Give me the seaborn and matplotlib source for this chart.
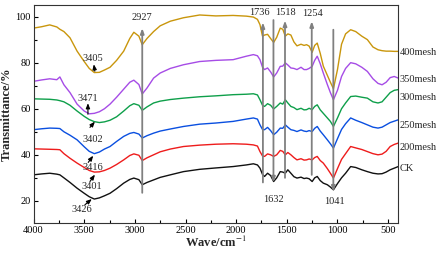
import matplotlib
matplotlib.use("Agg")
import matplotlib.pyplot as plt
import seaborn as sns
import pandas as pd
from matplotlib.ticker import MultipleLocator

# ---- data ----
wavenumber = [4000, 3920, 3840, 3770, 3740, 3700, 3640, 3570, 3500, 3450, 3400, 3350, 3300, 3245,
              3180, 3110, 3050, 3010, 2960, 2927, 2880, 2815, 2750, 2650, 2520, 2360, 2200, 2030,
              1900, 1830, 1790, 1765, 1740, 1720, 1690, 1660, 1630, 1600, 1565, 1540, 1515, 1490,
              1460, 1430, 1400, 1360, 1330, 1305, 1280, 1250, 1225, 1200, 1170, 1140, 1100, 1070,
              1040, 1000, 960, 920, 870, 820, 760, 705, 650, 600, 560, 520, 480, 440, 400]

mesh400 = [95.0, 95.6, 96.4, 95.5, 94.5, 93.5, 90.8, 85.0, 80.5, 77.5, 75.7, 75.8, 76.8, 78.0,
           81.0, 85.0, 90.5, 93.2, 91.5, 87.8, 90.5, 93.5, 96.0, 98.0, 99.5, 100.7, 100.3, 100.5,
           100.2, 99.8, 98.8, 96.5, 91.5, 92.0, 92.3, 90.5, 88.8, 91.0, 95.0, 94.5, 91.5, 92.5,
           92.0, 89.0, 87.3, 88.0, 87.5, 87.8, 87.2, 84.5, 87.5, 88.5, 84.0, 78.5, 74.5, 71.5,
           68.7, 77.0, 88.0, 92.5, 94.3, 93.5, 91.5, 90.0, 86.8, 85.6, 85.2, 85.0, 85.0, 84.9, 84.9]

mesh350 = [71.9, 72.5, 73.0, 72.6, 73.8, 70.4, 67.0, 62.0, 59.0, 57.8, 58.0, 58.7, 60.0, 62.0,
           65.0, 68.5, 71.5, 72.4, 70.5, 66.4, 69.0, 73.3, 75.5, 77.5, 79.1, 80.5, 81.0, 81.3,
           82.8, 83.5, 83.0, 81.3, 78.0, 77.0, 77.7, 76.0, 73.8, 75.5, 78.4, 78.5, 79.9, 79.0,
           77.7, 77.5, 77.0, 78.0, 77.0, 77.0, 77.5, 78.4, 81.0, 82.8, 79.5, 75.5, 70.5, 67.0,
           63.9, 68.0, 74.0, 77.5, 80.0, 79.5, 78.0, 76.2, 73.0, 71.0, 70.4, 71.5, 73.5, 74.0, 73.3]

mesh300 = [64.3, 64.2, 64.1, 63.8, 63.5, 63.0, 61.5, 59.0, 56.7, 55.3, 54.4, 54.0, 54.3, 55.0,
           56.5, 59.0, 61.3, 62.2, 61.5, 59.3, 60.8, 62.5, 63.3, 64.0, 64.6, 65.2, 65.6, 66.1,
           66.3, 66.5, 66.0, 63.9, 61.5, 61.0, 62.2, 61.5, 59.9, 61.0, 62.5, 62.0, 63.9, 62.5,
           61.0, 60.5, 59.6, 60.2, 59.5, 59.6, 60.2, 59.6, 61.0, 61.7, 59.5, 58.0, 56.0, 54.5,
           52.3, 56.0, 60.0, 62.5, 65.3, 65.5, 65.0, 64.6, 63.0, 62.5, 63.0, 65.0, 67.0, 68.0, 68.3]

mesh250 = [50.9, 51.3, 51.6, 51.5, 51.4, 50.0, 48.5, 46.5, 43.5, 41.5, 40.5, 41.2, 42.5, 43.6,
           45.8, 48.0, 49.3, 49.7, 49.0, 47.3, 48.3, 49.4, 50.3, 51.2, 52.3, 53.3, 53.8, 54.5,
           55.5, 56.0, 55.5, 53.0, 51.0, 50.9, 51.9, 50.5, 48.7, 49.8, 51.6, 51.5, 53.0, 52.0,
           50.9, 50.6, 50.1, 50.8, 50.3, 50.1, 50.5, 50.1, 51.5, 52.3, 50.3, 48.7, 46.5, 44.8,
           42.9, 47.0, 51.0, 53.5, 56.0, 55.0, 54.0, 53.0, 52.0, 51.6, 52.0, 53.0, 54.0, 54.6, 55.2]

mesh200 = [42.6, 42.5, 42.4, 42.3, 42.2, 40.5, 38.5, 36.4, 34.5, 33.2, 32.5, 32.6, 33.2, 34.2,
           35.8, 37.8, 39.7, 40.4, 39.8, 37.5, 38.7, 40.0, 41.3, 42.5, 43.6, 44.2, 44.6, 44.8,
           44.6, 44.3, 43.8, 41.4, 39.5, 39.3, 40.4, 40.0, 39.3, 40.0, 41.9, 41.5, 40.0, 41.0,
           40.0, 38.8, 37.8, 38.3, 37.7, 37.8, 38.2, 37.8, 38.8, 39.3, 37.5, 36.4, 34.0, 32.0,
           29.9, 34.0, 38.0, 40.5, 43.6, 43.0, 42.3, 41.4, 40.5, 40.0, 40.3, 41.5, 43.6, 44.5, 45.1]

ck = [31.3, 31.7, 32.0, 31.6, 31.3, 30.0, 28.0, 25.5, 23.3, 21.8, 20.8, 21.3, 22.2, 23.3,
      25.3, 27.7, 29.3, 29.9, 29.2, 27.0, 28.0, 29.1, 30.2, 31.3, 32.7, 33.7, 34.3, 34.9,
      35.6, 36.1, 35.6, 34.2, 31.5, 30.6, 32.0, 31.0, 28.4, 30.0, 32.7, 32.5, 32.0, 33.5,
      32.0, 30.5, 29.9, 30.3, 29.7, 29.9, 29.6, 28.4, 30.0, 30.6, 28.8, 27.7, 27.0, 26.0,
      24.8, 27.5, 30.0, 32.0, 34.9, 34.5, 33.5, 32.7, 32.0, 31.7, 31.8, 32.5, 33.5, 34.2, 34.9]

series_names = ["400mesh", "350mesh", "300mesh", "250mesh", "200mesh", "CK"]
series_values = [mesh400, mesh350, mesh300, mesh250, mesh200, ck]
series_label_y = [84.5, 72.6, 64.8, 52.6, 43.0, 34.0]
colors = ["#C9960C", "#A64CE6", "#0E9F4A", "#0A4FE0", "#EE1C1C", "#111111"]

peak_lines = [2927, 1736, 1632, 1518, 1254, 1041]
peak_labels = ["2927", "1736", "1632", "1518", "1254", "1041"]

oh_labels = ["3405", "3471", "3402", "3416", "3401", "3426"]

# ---- build ----
sns.set_theme(style="ticks")
plt.rcParams["font.family"] = ["Liberation Serif", "DejaVu Serif"]
plt.rcParams["mathtext.fontset"] = "stix"

rows = []
for name, vals in zip(series_names, series_values):
    for w, v in zip(wavenumber, vals):
        rows.append({"wave": w, "T": v, "sample": name})
df = pd.DataFrame(rows)

fig = plt.figure(figsize=(4.47, 2.54), dpi=100)
ax = fig.add_axes([0.075, 0.123, 0.816, 0.857])

sns.lineplot(data=df, x="wave", y="T", hue="sample", hue_order=series_names,
             palette=colors, legend=False, linewidth=1.0, ax=ax, estimator=None)

ax.set_xlim(4000, 400)
ax.set_ylim(10.5, 105)
ax.xaxis.set_major_locator(MultipleLocator(500))
ax.xaxis.set_minor_locator(MultipleLocator(250))
ax.yaxis.set_major_locator(MultipleLocator(20))
ax.yaxis.set_minor_locator(MultipleLocator(10))
ax.set_xticks([4000, 3500, 3000, 2500, 2000, 1500, 1000, 500])
ax.tick_params(axis="both", which="both", direction="in", labelsize=7.5, width=0.8,
               colors="black", pad=2)
ax.tick_params(which="major", length=3)
ax.tick_params(which="minor", length=2)
for s in ax.spines.values():
    s.set_linewidth(0.8)
    s.set_color("#333333")

ax.set_xlabel("Wave/cm$^{-1}$", fontsize=9, fontweight="bold", labelpad=0)
ax.set_ylabel("Transmittance/%", fontsize=9, fontweight="bold", labelpad=2)

# vertical marker lines
gray = "#808080"
line_spec = {
    "2927": (23.5, 95.0, "up"),
    "1736": (28.0, 97.5, "up"),
    "1632": (28.0, 98.5, "down"),
    "1518": (30.0, 98.3, "up"),
    "1254": (31.3, 98.0, "up"),
    "1041": (24.0, 94.3, "down"),
}
head = "-|>,head_length=0.25,head_width=0.09"
for w, lab in zip(peak_lines, peak_labels):
    lo, hi, d = line_spec[lab]
    if d == "up":
        ax.annotate("", xy=(w, hi), xytext=(w, lo),
                    arrowprops=dict(arrowstyle=head, color=gray, lw=1.3, shrinkA=0, shrinkB=0))
    else:
        ax.annotate("", xy=(w, lo), xytext=(w, hi),
                    arrowprops=dict(arrowstyle=head, color=gray, lw=1.3, shrinkA=0, shrinkB=0))

fs = 7.5
ax.text(2927, 99.6, "2927", ha="center", va="center", fontsize=fs)
ax.text(1771, 101.6, "1736", ha="center", va="center", fontsize=fs)
ax.text(1514, 101.6, "1518", ha="center", va="center", fontsize=fs)
ax.text(1250, 101.2, "1254", ha="center", va="center", fontsize=fs)
ax.text(1635, 20.4, "1632", ha="center", va="center", fontsize=fs)
ax.text(1032, 19.7, "1041", ha="center", va="center", fontsize=fs)

# O-H band labels with small arrows
oh_text_pos = [(3411, 81.6), (3460, 64.3), (3411, 46.5), (3411, 34.6), (3427, 26.2), (3525, 16.4)]
oh_arrows = [((3395, 76.3), (3405, 79.3)),
             ((3463, 57.6), (3463, 62.4)),
             ((3443, 51.9), (3394, 54.4)),
             ((3460, 36.7), (3411, 39.6)),
             ((3443, 28.4), (3394, 31.4)),
             ((3493, 18.3), (3425, 20.8))]
for lab, (tx, ty), (a0, a1) in zip(oh_labels, oh_text_pos, oh_arrows):
    ax.text(tx, ty, lab, ha="center", va="center", fontsize=fs)
    ax.annotate("", xy=a1, xytext=a0,
                arrowprops=dict(arrowstyle="-|>,head_length=0.25,head_width=0.1",
                                color="black", lw=0.8, shrinkA=0, shrinkB=0))

# series labels at right
for name, y in zip(series_names, series_label_y):
    ax.text(1.003, y, name, transform=ax.get_yaxis_transform(), ha="left", va="center",
            fontsize=fs, clip_on=False)

fig.savefig("out.png", dpi=100)
